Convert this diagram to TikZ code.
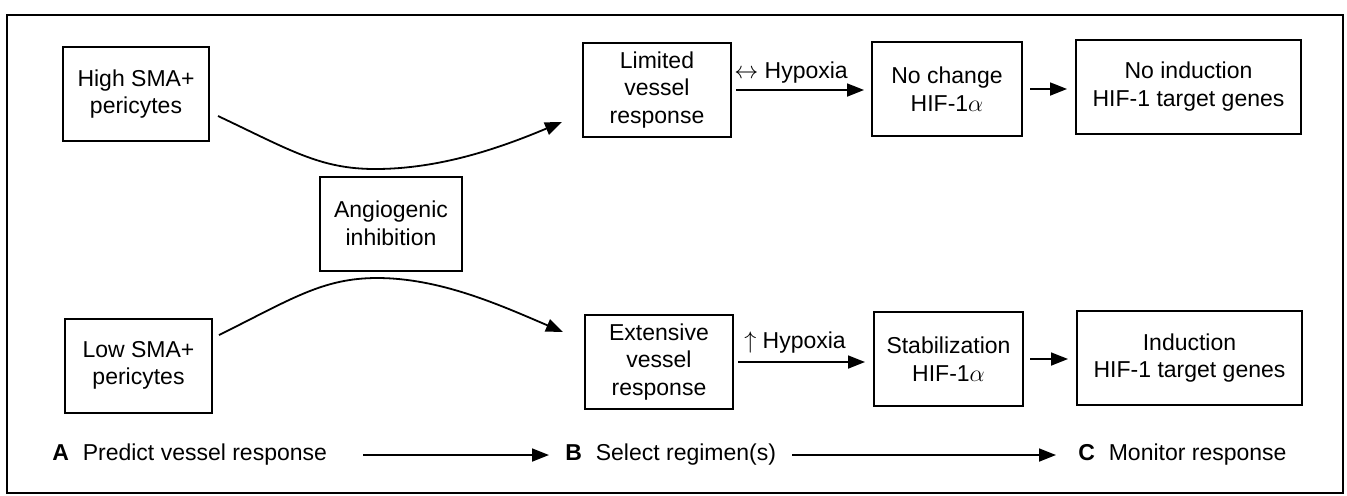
\documentclass[tikz,border=0pt]{standalone}
\usepackage{fontspec}
\setmainfont{Liberation Sans}
\usetikzlibrary{arrows.meta}
\begin{document}
\begin{tikzpicture}[x=0.5pt,y=-0.5pt,
  box/.style={draw, line width=1pt, align=center, inner sep=0pt, minimum height=47pt,
    font=\fontsize{11.5pt}{13.8pt}\selectfont},
  lbl/.style={inner sep=0pt, font=\fontsize{11.5pt}{13.5pt}\selectfont},
  arr/.style={line width=0.9pt, -{Triangle[length=8.5pt,width=6.5pt]}},
]
\useasboundingbox (0,0) rectangle (1347,495);
\draw[line width=1pt] (7,15) rectangle (1343,493);

\node[box, minimum width=73pt] (high) at (136,94) {High SMA+\\pericytes};
\node[box, minimum width=73.5pt] (low) at (138.5,365.5) {Low SMA+\\pericytes};
\node[box, minimum width=71pt] (angio) at (391,223.5) {Angiogenic\\inhibition};
\node[box, minimum width=74pt] (limited) at (657,90) {Limited\\vessel\\response};
\node[box, minimum width=74pt] (extensive) at (659,362) {Extensive\\vessel\\response};
\node[box, minimum width=75pt] (nochange) at (947,89) {No change\\HIF-1$\alpha$};
\node[box, minimum width=74.5pt] (stab) at (948.5,359) {Stabilization\\HIF-1$\alpha$};
\node[box, minimum width=112.5pt] (noind) at (1188.5,86.5) {No induction\\HIF-1 target genes};
\node[box, minimum width=112.5pt] (induct) at (1189.5,358) {Induction\\HIF-1 target genes};

% curved connectors
\coordinate (t0) at (218,116);
\coordinate (t1) at (375,169);
\coordinate (t2) at (562,122);
\coordinate (b0) at (219,335);
\coordinate (b1) at (377,278);
\coordinate (b2) at (563,332);
\draw[arr] (t0) .. controls (290,150) and (320,169) .. (t1) .. controls (440,169) and (500,148) .. (t2);
\draw[arr] (b0) .. controls (290,300) and (322,278) .. (b1) .. controls (440,278) and (500,305) .. (b2);

% horizontal connectors
\draw[arr, shorten <=2pt, shorten >=3.5pt] (limited.east) -- (limited.east -| nochange.west);
\node[lbl] (hyp1) at (791,73) {$\leftrightarrow$ Hypoxia};
\draw[arr, shorten <=3.5pt, shorten >=4pt] (nochange.east) -- (nochange.east -| noind.west);
\draw[arr, shorten <=2pt, shorten >=4pt] (extensive.east) -- (extensive.east -| stab.west);
\node[lbl] (hyp2) at (795,343) {$\uparrow$ Hypoxia};
\draw[arr, shorten <=3pt, shorten >=4pt] (stab.east) -- (stab.east -| induct.west);

% bottom row
\node[lbl, anchor=west] (la) at (52,455) {\textbf{A}\hspace{0.6em}Predict vessel response};
\node[lbl, anchor=west] (lb) at (565,455) {\textbf{B}\hspace{0.6em}Select regimen(s)};
\node[lbl, anchor=west] (lc) at (1078,455) {\textbf{C}\hspace{0.6em}Monitor response};
\draw[arr, shorten <=18pt, shorten >=8pt] (la.east) -- (lb.west);
\draw[arr, shorten <=8pt, shorten >=11pt] (lb.east) -- (lc.west);
\end{tikzpicture}
\end{document}
